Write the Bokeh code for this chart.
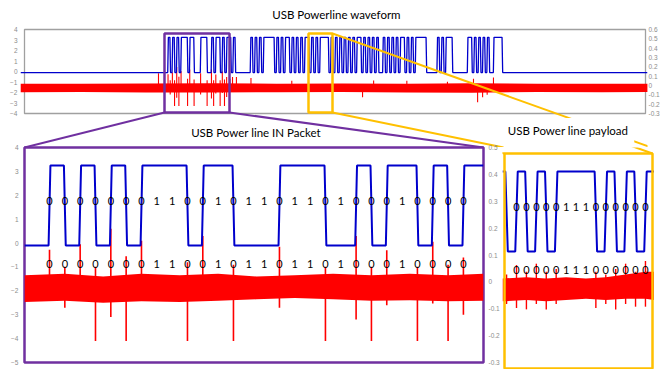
from bokeh.plotting import figure
from bokeh.models import Range1d, LinearAxis, FixedTicker, Label, CustomJSTickFormatter, ColumnDataSource
from bokeh.layouts import column, row
from bokeh.embed import file_html
from bokeh.resources import INLINE
from bokeh.core.properties import value

# ---------------- data ----------------
TITLE_TOP = "USB Powerline waveform"
TITLE_IN = "USB Power line IN Packet"
TITLE_PAY = "USB Power line payload"

# NRZI bits of the IN packet: a "0" is a level transition, a "1" keeps the level
in_bits = [0, 0, 0, 0, 0, 0, 0, 1, 1, 0, 0, 1, 0, 1, 1, 0, 1, 1, 0, 1, 0, 0, 0, 1, 0, 0, 0, 0]
# payload detail; one unlabelled "0" bit precedes it and the line starts high
payload_bits = [0, 0, 0, 0, 0, 1, 1, 1, 0, 0, 0, 0, 0, 0]
payload_prev_bits = [0]
payload_start_level = 1

blue_low = -0.1      # left axis
blue_high = 3.25

# overview: blue level per bit period after the IN packet (t = 28, 29, ...)
top_tail_levels = [1, 0, 1, 0,
                   0, 0, 0, 0, 0, 0,
                   1, 0, 1, 0, 1, 0, 1,
                   1, 1, 1, 1,
                   0, 1, 0, 1, 0, 1, 1, 0, 1, 0, 1, 0, 1, 0, 1,
                   1, 0, 1, 0, 1, 0, 1, 1, 1, 1, 0, 1, 0, 1, 0, 1,
                   0, 1, 0, 1, 0, 1, 0, 1, 1, 0, 1, 0, 1, 0, 1, 0, 1, 0, 0, 1, 0, 1, 0, 1, 0, 1, 0, 1, 1, 0, 1, 0, 1, 0, 1,
                   1, 1, 1, 1,
                   0, 0, 0, 0, 0,
                   1, 0, 1, 0, 1, 1, 1,
                   0, 0, 0, 0, 0, 0, 0,
                   1, 1, 0, 1, 0, 1, 0, 1, 0, 1, 0, 0, 1, 1, 1, 1,
                   0]

# red trace (right axis units)
red_base = -0.025
in_spike_t = [0, 1, 2, 3, 4, 5, 6, 9, 10, 12, 15, 18, 20, 21, 22, 24, 25, 26, 27]
in_spike_up = [0.120, 0.056, 0.140, 0.056, 0.198, 0.095, 0.153, 0.073, 0.171, 0.064,
               0.131, 0.056, 0.171, 0.056, 0.118, 0.056, 0.149, 0.064, 0.091]
in_spike_down = [-0.070, -0.096, -0.069, -0.220, -0.131, -0.220, -0.069, -0.220, -0.069, -0.220,
                 -0.096, -0.220, -0.140, -0.220, -0.087, -0.220, -0.080, -0.220, -0.122]
in_band_t = [-1.63, 1, 3.5, 6, 8.5, 11, 13.5, 16, 18.5, 21, 23.5, 26, 28.31]
in_band_hi = [0.025, 0.030, 0.020, 0.030, 0.025, 0.030, 0.020, 0.025, 0.030, 0.025, 0.030, 0.025, 0.030]
in_band_lo = [-0.075, -0.070, -0.078, -0.072, -0.075, -0.070, -0.065, -0.060, -0.065, -0.070, -0.068, -0.072, -0.070]

pay_spike_t = [-1, 0, 1, 2, 3, 4, 8, 9, 10, 11, 12, 13]
pay_spike_up = [0.05, 0.085, 0.06, 0.09, 0.06, 0.07, 0.06, 0.05, 0.07, 0.09, 0.06, 0.10]
pay_spike_down = [-0.06, -0.075, -0.08, -0.06, -0.08, -0.06, -0.075, -0.06, -0.08, -0.06, -0.07, -0.07]
pay_band_t = [-1.41, 1, 3, 5, 7, 9, 11, 13, 13.91]
pay_band_hi = [0.035, 0.040, 0.035, 0.040, 0.035, 0.040, 0.050, 0.060, 0.060]
pay_band_lo = [-0.050, -0.045, -0.050, -0.045, -0.040, -0.045, -0.040, -0.040, -0.045]

top_band_t = [-68, -40, -10, 20, 50, 80, 110, 140, 170, 200, 221]
top_band_hi = [0.020, 0.018, 0.022, 0.025, 0.020, 0.022, 0.020, 0.025, 0.020, 0.018, 0.020]
top_band_lo = [-0.072, -0.070, -0.075, -0.075, -0.072, -0.070, -0.075, -0.078, -0.070, -0.072, -0.070]
top_spike_t = [-4.4, 28.5, 29.7, 31.5, 38.2, 57, 89.6, 94.7, 110, 128.7, 140.7, 142.6, 144.9, 147, 149.9]
top_spike_peak = [0.13, 0.07, 0.09, 0.09, 0.08, 0.05, -0.125, 0.054, 0.05, 0.04, 0.072, -0.18, -0.125, -0.10, 0.085]

top_left_ticks = [-4, -3, -2, -1, 0, 1, 2, 3, 4]
top_right_ticks = [-0.3, -0.2, -0.1, 0, 0.1, 0.2, 0.3, 0.4, 0.5, 0.6]
bot_left_ticks = [-5, -4, -3, -2, -1, 0, 1, 2, 3, 4]
bot_right_ticks = [-0.3, -0.2, -0.1, 0, 0.1, 0.2, 0.3, 0.4, 0.5]

# ---------------- layout / style constants (page pixels) ----------------
PURPLE, YELLOW, BLUE, RED = "#7030A0", "#FFC000", "#0000CC", "#FF0000"
TICKGREY, BOXGREY = "#8c8c8c", "#a0a0a0"
FONT = "Lato"
PAGE = 0
TOP_FX = (20, 647); TOP_FY = (8, 147)
TOP_BOX_X = (24, 645); TOP_BOX_Y = (29, 113)
WIN_Y = (33, 112); IN_WIN_X = (164, 229); PAY_WIN_X = (308, 332)
BL_FX = (24, 483); BOT_FY = (147, 362)
BR_FX = (501, 653); BR_FY = (141, 364); BR_BOX_X = (503, 651)
IN_BIT0, IN_PERIOD = 49, 15.33
PAY_BIT0, PAY_PERIOD = 515, 9.92
ROW_HI, ROW_LO = 1.78, -0.86

bl_x0 = (BL_FX[0] - IN_BIT0) / IN_PERIOD
bl_x1 = (BL_FX[1] - IN_BIT0) / IN_PERIOD
_s = (bl_x1 - bl_x0) / (IN_WIN_X[1] - IN_WIN_X[0])
def tx(px): return bl_x0 + (px - IN_WIN_X[0]) * _s
def ly(py): return 4 - (py - TOP_BOX_Y[0]) * 8 / (TOP_BOX_Y[1] - TOP_BOX_Y[0])
def ry(py): return 0.6 - (py - TOP_BOX_Y[0]) * 0.9 / (TOP_BOX_Y[1] - TOP_BOX_Y[0])
def bx(px): return (px - PAY_BIT0) / PAY_PERIOD
def bly(py): return 4 - (py - BOT_FY[0]) * 9 / (BOT_FY[1] - BOT_FY[0])
def bry(py): return 0.5 - (py - BOT_FY[0]) * 0.8 / (BOT_FY[1] - BOT_FY[0])

# ---------------- helpers ----------------
def nrzi(bits, t0, level):
    trans = []
    for i, b in enumerate(bits):
        if b == 0:
            level = 1 - level
            trans.append((t0 + i, level))
    return trans, level

def from_levels(levels, t0, level):
    trans = []
    for i, lv in enumerate(levels):
        if lv != level:
            trans.append((t0 + i, lv))
            level = lv
    return trans

def wave_xy(start, trans, x0, x1, ramp):
    lv = {0: blue_low, 1: blue_high}
    xs, ys, cur = [x0], [lv[start]], start
    for t, new in trans:
        xs += [t - ramp / 2, t + ramp / 2]
        ys += [lv[cur], lv[new]]
        cur = new
    xs.append(x1); ys.append(lv[cur])
    return xs, ys

def style_axis(ax, ticks, standoff, decimal=False):
    ax.ticker = FixedTicker(ticks=ticks)
    ax.axis_line_color = None
    ax.major_tick_line_color = None
    ax.minor_tick_line_color = None
    ax.major_tick_out = 0; ax.major_tick_in = 0
    ax.minor_tick_out = 0; ax.minor_tick_in = 0
    ax.major_label_text_font = "Liberation Sans"
    ax.major_label_text_font_size = "6.5px"
    ax.major_label_text_color = TICKGREY
    ax.major_label_standoff = standoff
    if decimal:
        ax.formatter = CustomJSTickFormatter(code="return (Math.round(tick*10)/10).toString();")

# ---------------- top overview ----------------
p_top = figure(frame_width=TOP_FX[1] - TOP_FX[0], frame_height=TOP_FY[1] - TOP_FY[0],
               x_range=Range1d(tx(TOP_FX[0]), tx(TOP_FX[1])),
               y_range=Range1d(ly(TOP_FY[1]), ly(TOP_FY[0])),
               x_axis_location=None, title=None,
               min_border_left=TOP_FX[0] - PAGE, min_border_right=16,
               min_border_top=TOP_FY[0] - PAGE, min_border_bottom=0,
               output_backend="svg", toolbar_location=None)
p_top.outline_line_color = None
p_top.grid.visible = False
p_top.extra_y_ranges = {"r": Range1d(ry(TOP_FY[1]), ry(TOP_FY[0]))}
style_axis(p_top.yaxis[0], top_left_ticks, 3)
ax_r = LinearAxis(y_range_name="r")
style_axis(ax_r, top_right_ticks, 1, decimal=True)
p_top.add_layout(ax_r, "right")

p_top.quad(left=tx(TOP_BOX_X[0]), right=tx(TOP_BOX_X[1]), bottom=-4, top=4,
           fill_color=None, line_color=BOXGREY, line_width=1.3)

p_top.varea(x=top_band_t, y1=top_band_lo, y2=top_band_hi, y_range_name="r", fill_color=RED)
sp_t = in_spike_t + in_spike_t + top_spike_t
sp_v = in_spike_up + in_spike_down + top_spike_peak
p_top.segment(x0=sp_t, y0=[red_base] * len(sp_t), x1=sp_t, y1=sp_v,
              y_range_name="r", line_color=RED, line_width=1.1)

in_trans, in_end = nrzi(in_bits, 0, 0)
top_trans = in_trans + from_levels(top_tail_levels, len(in_bits), in_end)
xs, ys = wave_xy(0, top_trans, tx(TOP_FX[0]), tx(TOP_FX[1]), 0.3)
p_top.line(xs, ys, line_color=BLUE, line_width=1.3)

p_top.quad(left=[bl_x0, tx(PAY_WIN_X[0])], right=[bl_x1, tx(PAY_WIN_X[1])],
           bottom=ly(WIN_Y[1]), top=ly(WIN_Y[0]), fill_color=None,
           line_color=[PURPLE, YELLOW], line_width=2.5)
p_top.segment(x0=[tx(IN_WIN_X[0]), tx(IN_WIN_X[1])], y0=[ly(WIN_Y[1])] * 2,
              x1=[tx(BL_FX[0]), tx(BL_FX[1])], y1=[ly(BOT_FY[0])] * 2,
              line_color=PURPLE, line_width=2)
yc_x0 = [PAY_WIN_X[1], PAY_WIN_X[1]]; yc_y0 = [WIN_Y[1], WIN_Y[0]]
yc_x1 = [BR_BOX_X[0], BR_BOX_X[1]]; yc_y1 = [BOT_FY[0], BOT_FY[0]]
p_top.segment(x0=[tx(v) for v in yc_x0], y0=[ly(v) for v in yc_y0],
              x1=[tx(v) for v in yc_x1], y1=[ly(v) for v in yc_y1],
              line_color=YELLOW, line_width=2)

p_top.add_layout(Label(x=tx(336), y=ly(14), text=TITLE_TOP, text_align="center",
                       text_baseline="middle", text_font=FONT, text_font_size="11.5px",
                       text_color="black"))
p_top.add_layout(Label(x=tx(255.5), y=ly(132), text=TITLE_IN, text_align="center",
                       text_baseline="middle", text_font=FONT, text_font_size="11.5px",
                       text_color="black"))
p_top.add_layout(Label(x=tx(567.5), y=ly(130), text=TITLE_PAY, text_align="center",
                       text_baseline="middle", text_font=FONT, text_font_size="11.5px",
                       text_color="black", background_fill_color="white", padding=6))

# ---------------- bottom left: IN packet ----------------
p_bl = figure(frame_width=BL_FX[1] - BL_FX[0], frame_height=BOT_FY[1] - BOT_FY[0],
              x_range=Range1d(bl_x0, bl_x1), y_range=Range1d(-5, 4),
              x_axis_location=None, title=None,
              min_border_left=BL_FX[0] - PAGE, min_border_right=BR_FX[0] - BL_FX[1],
              min_border_top=6, min_border_bottom=7,
              output_backend="svg", toolbar_location=None)
p_bl.border_fill_color = None
p_bl.background_fill_color = None
p_bl.outline_line_color = PURPLE
p_bl.outline_line_width = 2.5
p_bl.grid.visible = False
p_bl.extra_y_ranges = {"r": Range1d(-0.3, 0.5)}
style_axis(p_bl.yaxis[0], bot_left_ticks, 6)
ax_br = LinearAxis(y_range_name="r")
style_axis(ax_br, bot_right_ticks, 5, decimal=True)
p_bl.add_layout(ax_br, "right")

p_bl.varea(x=in_band_t, y1=in_band_lo, y2=in_band_hi, y_range_name="r", fill_color=RED)
p_bl.segment(x0=in_spike_t * 2, y0=[red_base] * (2 * len(in_spike_t)), x1=in_spike_t * 2,
             y1=in_spike_up + in_spike_down, y_range_name="r", line_color=RED, line_width=1.6)
xs, ys = wave_xy(0, in_trans, bl_x0, bl_x1, 0.12)
p_bl.line(xs, ys, line_color=BLUE, line_width=2)
src_in = ColumnDataSource(dict(x=list(range(len(in_bits))), t=[str(b) for b in in_bits]))
for yv in (ROW_HI, ROW_LO):
    p_bl.text(x="x", y=yv, text="t", source=src_in, text_font=value(FONT),
              text_font_size="11px", text_align="center", text_baseline="middle", text_color="black")

# ---------------- bottom right: payload ----------------
p_br = figure(frame_width=BR_FX[1] - BR_FX[0], frame_height=BR_FY[1] - BR_FY[0],
              x_range=Range1d(bx(BR_FX[0]), bx(BR_FX[1])),
              y_range=Range1d(bly(BR_FY[1]), bly(BR_FY[0])),
              x_axis_location=None, y_axis_location=None, title=None,
              min_border_left=0, min_border_right=0, min_border_top=0, min_border_bottom=5,
              output_backend="svg", toolbar_location=None)
p_br.border_fill_color = None
p_br.background_fill_color = None
p_br.outline_line_color = None
p_br.grid.visible = False
p_br.extra_y_ranges = {"r": Range1d(bry(BR_FY[1]), bry(BR_FY[0]))}

p_br.varea(x=pay_band_t, y1=pay_band_lo, y2=pay_band_hi, y_range_name="r", fill_color=RED)
p_br.segment(x0=pay_spike_t * 2, y0=[0.0] * (2 * len(pay_spike_t)), x1=pay_spike_t * 2,
             y1=pay_spike_up + pay_spike_down, y_range_name="r", line_color=RED, line_width=1.4)
pay_trans, _ = nrzi(payload_prev_bits + payload_bits, -len(payload_prev_bits), payload_start_level)
xs, ys = wave_xy(payload_start_level, pay_trans, bx(BR_FX[0]), bx(BR_FX[1]), 0.25)
p_br.line(xs, ys, line_color=BLUE, line_width=2)
src_pay = ColumnDataSource(dict(x=list(range(len(payload_bits))), t=[str(b) for b in payload_bits]))
for yv in (ROW_HI, ROW_LO):
    p_br.text(x="x", y=yv, text="t", source=src_pay, text_font=value(FONT),
              text_font_size="11px", text_align="center", text_baseline="middle", text_color="black")
p_br.quad(left=bx(BR_BOX_X[0]), right=bx(BR_BOX_X[1]), bottom=-5, top=4,
          fill_color=None, line_color=YELLOW, line_width=2.5)
p_br.segment(x0=[bx(v) for v in yc_x0], y0=[bly(v) for v in yc_y0],
             x1=[bx(v) for v in yc_x1], y1=[bly(v) for v in yc_y1],
             line_color=YELLOW, line_width=2)

bottom = row(p_bl, p_br, margin=(-6, 0, 0, 0))
layout = column(p_top, bottom)
open("out.html", "w").write(file_html(layout, INLINE))
